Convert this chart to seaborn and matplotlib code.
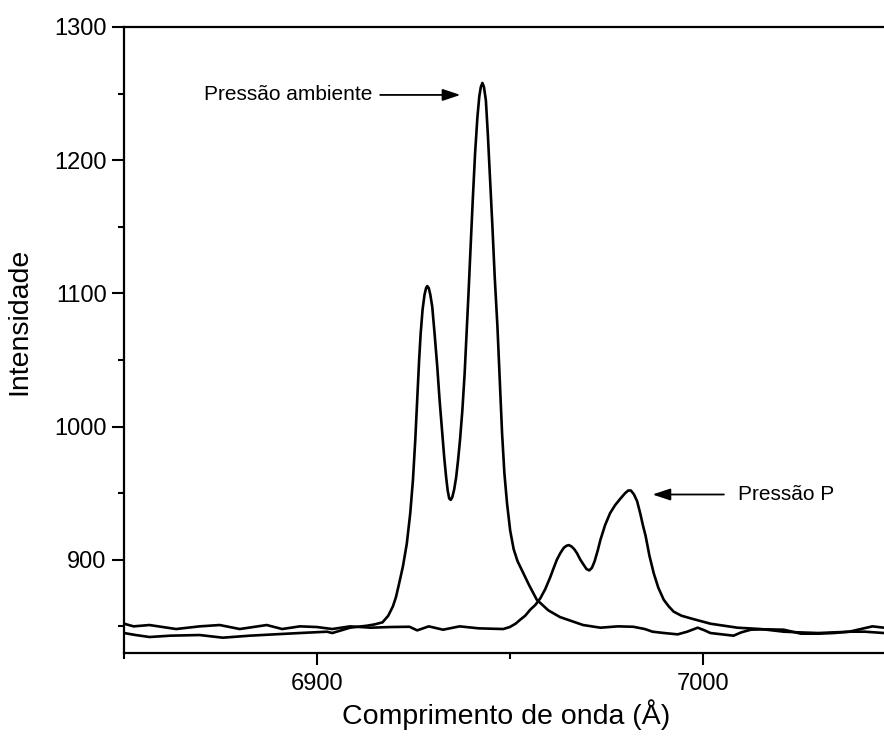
import matplotlib
matplotlib.use("Agg")
import matplotlib.pyplot as plt
import seaborn as sns
import pandas as pd
from matplotlib.ticker import MultipleLocator

# ---- data ----
amb_x = [6850, 6853, 6856.6, 6862, 6869.6, 6875.6, 6882.6, 6889, 6895.6, 6902.6,
         6904, 6908.6, 6913, 6915, 6917, 6918.5, 6919.7, 6920.5, 6921.3, 6922.3,
         6923.3, 6924.2, 6924.9, 6925.5, 6926, 6926.5, 6926.9, 6927.4, 6927.9, 6928.3,
         6928.6, 6929, 6929.4, 6929.9, 6930.5, 6931.2, 6931.8, 6932.5, 6933, 6933.5,
         6933.9, 6934.3, 6934.7, 6935.1, 6935.6, 6936.1, 6936.6, 6937.1, 6937.7, 6938.3,
         6938.8, 6939.3, 6939.8, 6940.4, 6941, 6941.6, 6942.1, 6942.5, 6942.9, 6943.3,
         6943.8, 6944.3, 6944.9, 6945.5, 6946.1, 6946.8, 6947.4, 6948, 6948.6, 6949.3,
         6950.1, 6951, 6952, 6953.5, 6955, 6957, 6960, 6963, 6966, 6969,
         6973.5, 6978, 6982, 6985, 6987, 6990, 6993.5, 6996, 6998.7, 7000.5,
         7002, 7005, 7008, 7010, 7012.5, 7016, 7021, 7025.5, 7030, 7034,
         7038, 7041, 7044, 7047]
amb_y = [845, 843.5, 842, 843, 843.5, 841.5, 843, 844, 845, 846,
         845, 849, 850.5, 851.5, 853, 858, 865, 872, 882, 895,
         912, 935, 960, 990, 1020, 1050, 1070, 1088, 1099, 1104,
         1105.5, 1104, 1099, 1090, 1070, 1045, 1020, 995, 977, 962,
         952, 946, 945, 947, 953, 962, 975, 990, 1012, 1040,
         1070, 1100, 1132, 1170, 1205, 1232, 1248, 1255, 1258, 1255,
         1245, 1220, 1185, 1150, 1112, 1075, 1035, 995, 965, 942,
         922, 908, 899, 890, 881, 870, 862, 857, 854, 851,
         849, 850, 849.7, 848, 846, 845, 844, 846, 849, 847,
         845, 844, 843, 845.5, 847.5, 847.8, 847.5, 844.5, 844.5, 845,
         846, 848, 850, 849]

p_x = [6850, 6852.5, 6856.6, 6863.5, 6869.6, 6874.8, 6880, 6887, 6891, 6895.6,
       6900, 6904, 6908.6, 6914, 6919, 6924, 6926, 6929, 6932.7, 6937,
       6942, 6948.3, 6950, 6951.5, 6952.7, 6954, 6955.3, 6956.6, 6957.9, 6959.2,
       6960.5, 6961.4, 6962.2, 6963.1, 6964, 6964.7, 6965.3, 6966, 6966.7, 6967.4,
       6968.3, 6969.2, 6969.9, 6970.6, 6971.3, 6972, 6972.8, 6973.5, 6974.7, 6976,
       6977.3, 6978.7, 6979.9, 6980.7, 6981.4, 6982.2, 6983, 6983.8, 6984.5, 6985.2,
       6986.2, 6987.3, 6988.5, 6989.9, 6991.2, 6992.5, 6994.5, 6996.9, 7002, 7009,
       7015, 7021, 7025, 7030, 7034, 7038.4, 7042, 7047]
p_y = [852, 850, 851, 848, 850, 851, 848, 851, 848, 850,
       849.5, 848, 850, 849, 849.5, 849.7, 847, 850, 847.5, 850,
       848.5, 848, 849.5, 852, 855, 858, 862.5, 866, 871, 878,
       887, 894, 900, 905, 909, 910.5, 911, 910, 908, 905,
       900, 896, 893, 892, 894, 899, 907, 915, 926, 935,
       941, 946, 950, 952, 952, 949, 944, 935, 926, 918,
       903, 890, 879, 870, 865, 861, 858, 856, 852, 849,
       848, 846, 845.5, 845, 845.5, 846, 846, 845]

x_ticks = [6900, 7000]
y_ticks = [900, 1000, 1100, 1200, 1300]
label_amb = "Pressão ambiente"
label_p = "Pressão P"
xlabel = "Comprimento de onda (Å)"
ylabel = "Intensidade"

# ---- plot ----
sns.set_theme(style="ticks")
plt.rcParams["font.family"] = ["Liberation Sans", "DejaVu Sans"]

W, H = 884, 736
fig = plt.figure(figsize=(W / 100, H / 100), dpi=100)
ax = fig.add_axes([124 / W, (H - 653) / H, (884 - 124) / W, (653 - 27) / H])

df_a = pd.DataFrame({"x": amb_x, "y": amb_y})
df_p = pd.DataFrame({"x": p_x, "y": p_y})
sns.lineplot(data=df_a, x="x", y="y", color="black", lw=1.9, sort=False, ax=ax)
sns.lineplot(data=df_p, x="x", y="y", color="black", lw=1.9, sort=False, ax=ax)
for ln in ax.lines:
    ln.set_solid_joinstyle("round")

ax.set_xlim(6850, 7047)
ax.set_ylim(830, 1300)
ax.set_xticks(x_ticks)
ax.set_yticks(y_ticks)
ax.xaxis.set_minor_locator(MultipleLocator(50))
ax.yaxis.set_minor_locator(MultipleLocator(50))
ax.tick_params(axis="both", which="major", length=8.5, width=1.5, labelsize=17,
               color="black", labelcolor="black")
ax.tick_params(axis="both", which="minor", length=4.5, width=1.5, color="black")
ax.tick_params(axis="x", which="major", pad=6)
ax.tick_params(axis="y", which="major", pad=4)

for side in ["left", "bottom", "top"]:
    ax.spines[side].set_visible(True)
    ax.spines[side].set_linewidth(1.6)
    ax.spines[side].set_color("black")
ax.spines["right"].set_visible(False)

ax.set_xlabel(xlabel, fontsize=20.5, color="black")
ax.set_ylabel(ylabel, fontsize=20.5, color="black")
ax.xaxis.set_label_coords(0.503, -0.073)
ax.yaxis.set_label_coords(-0.12, 0.529)

# annotations
ax.text(6914.5, 1249, label_amb, ha="right", va="center", fontsize=15, color="black")
ax.annotate("", xy=(6937.2, 1249), xytext=(6916.4, 1249),
            arrowprops=dict(arrowstyle="-|>,head_length=0.9,head_width=0.3",
                            color="black", lw=1.3, shrinkA=0, shrinkB=0))
ax.text(7009.1, 949, label_p, ha="left", va="center", fontsize=15, color="black")
ax.annotate("", xy=(6987, 949), xytext=(7005.5, 949),
            arrowprops=dict(arrowstyle="-|>,head_length=0.9,head_width=0.3",
                            color="black", lw=1.3, shrinkA=0, shrinkB=0))

fig.savefig("out.png", dpi=100, facecolor="white")
